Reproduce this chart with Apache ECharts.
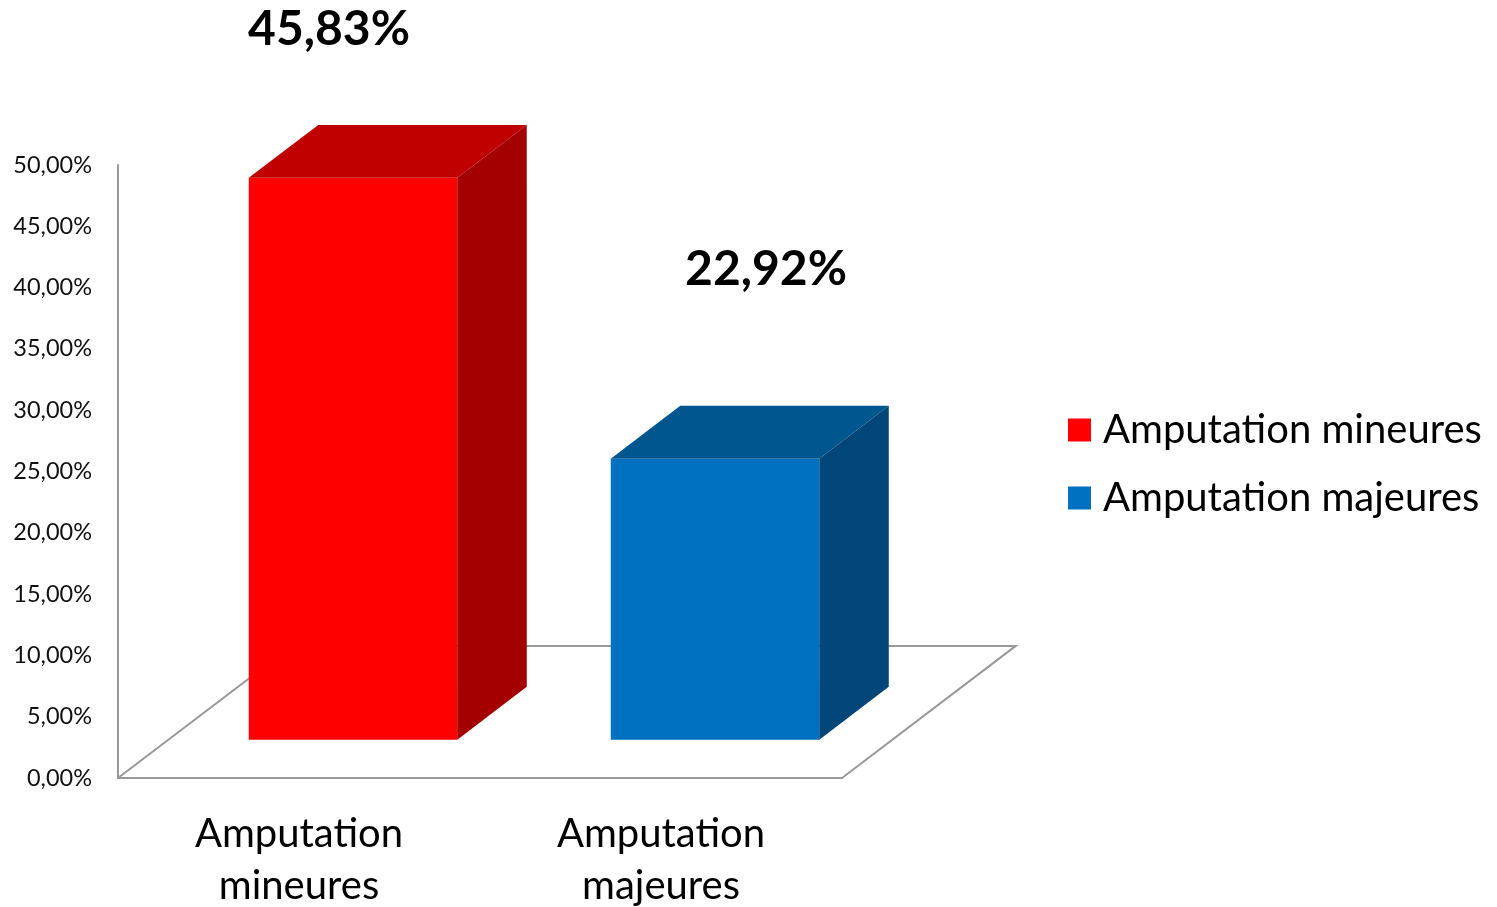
<!DOCTYPE html>
<html>
<head>
<meta charset="utf-8">
<script src="https://cdn.jsdelivr.net/npm/echarts@6/dist/echarts.min.js"></script>
<style>
    html, body { margin: 0; padding: 0; background: #fff; }
    #main { width: 1497px; height: 907px; }
</style>
</head>
<body>
<div id="main"></div>
<script>
// données
var categories = ['Amputation mineures', 'Amputation majeures']
var values = [45.83, 22.92]
var yTicks = [0, 5, 10, 15, 20, 25, 30, 35, 40, 45, 50]

// couleurs des faces : avant, dessus, côté
var faces = [
    ['#ff0000', '#c00000', '#a50000'],
    ['#0070c0', '#00568f', '#004679']
]
// décalage des étiquettes (placées à la main dans l'original)
var labelShift = [[-24, -148], [51, -189]]

var myChart = echarts.init(document.getElementById('main'))
var font = 'Lato, "Open Sans", sans-serif'

function depthVec(params, api) {
    var band = api.size([1, 0])[0]
    return [band * 0.48, -params.coordSys.height * 0.2155]
}

// sol 3D
function renderFloor(params, api) {
    var cs = params.coordSys
    var d = depthVec(params, api)
    var x0 = cs.x, x1 = cs.x + cs.width, y0 = cs.y + cs.height
    return {
        type: 'polyline',
        shape: { points: [[x1, y0], [x1 + d[0], y0 + d[1]], [x0 + d[0], y0 + d[1]], [x0, y0]] },
        style: { stroke: '#999', lineWidth: 2, fill: null },
        silent: true
    }
}

function makeBar(si) {
    return function(params, api) {
        var band = api.size([1, 0])[0]
        var d = depthVec(params, api)
        var idx = api.value(0)
        var top = api.coord([idx, api.value(1)])
        var base = api.coord([idx, 0])
        var fdx = d[0] * 0.29, fdy = d[1] * 0.29
        var bdx = d[0] * 0.4, bdy = d[1] * 0.4
        var left = top[0] - band / 2 + fdx + band * 0.222
        var right = left + band * 0.576
        var yt = top[1] + fdy, yb = base[1] + fdy
        var f = faces[si]
        var txt = api.value(1).toFixed(2).replace('.', ',') + '%'
        return {
            type: 'group',
            children: [
                { type: 'polygon', shape: { points: [[left, yt], [right, yt], [right, yb], [left, yb]] }, style: { fill: f[0] } },
                { type: 'polygon', shape: { points: [[left, yt], [left + bdx, yt + bdy], [right + bdx, yt + bdy], [right, yt]] }, style: { fill: f[1] } },
                { type: 'polygon', shape: { points: [[right, yt], [right + bdx, yt + bdy], [right + bdx, yb + bdy], [right, yb]] }, style: { fill: f[2] } },
                {
                    type: 'text',
                    style: {
                        text: txt,
                        x: (left + right) / 2 + labelShift[si][0],
                        y: yt + labelShift[si][1],
                        align: 'center', verticalAlign: 'middle',
                        font: 'bold 48px ' + font,
                        fill: '#000'
                    }
                }
            ]
        }
    }
}

var option = {
    backgroundColor: '#fff',
    animation: false,
    textStyle: { fontFamily: font },
    grid: { left: 118, right: 655, top: 165, bottom: 129, containLabel: false, outerBoundsMode: 'none' },
    legend: {
        data: categories.map(function(c) { return { name: c, icon: 'rect' } }),
        orient: 'vertical',
        left: 1068, top: 410, padding: 0,
        itemWidth: 23, itemHeight: 23, itemGap: 28,
        textStyle: { fontSize: 40, color: '#000', fontFamily: font, padding: [0, 0, 0, 7] }
    },
    xAxis: {
        type: 'category',
        data: categories,
        axisLine: { show: true, lineStyle: { color: '#999', width: 2 } },
        axisTick: { show: false },
        axisLabel: {
            fontSize: 40, color: '#000', lineHeight: 52, margin: 30, interval: 0,
            formatter: function(v) { return v.replace(' ', '\n') }
        }
    },
    yAxis: {
        type: 'value',
        min: yTicks[0], max: yTicks[yTicks.length - 1], interval: yTicks[1] - yTicks[0],
        axisLine: { show: true, lineStyle: { color: '#999', width: 2 } },
        axisTick: { show: false },
        splitLine: { show: false },
        axisLabel: {
            fontSize: 23.5, color: '#111', margin: 26,
            formatter: function(v) { return v.toFixed(2).replace('.', ',') + '%' }
        }
    },
    series: [
        { type: 'custom', name: 'floor', renderItem: renderFloor, data: [[0, 0]], z: 1, silent: true },
        { type: 'custom', name: categories[0], renderItem: makeBar(0), data: [[0, values[0]]], itemStyle: { color: faces[0][0] }, z: 3 },
        { type: 'custom', name: categories[1], renderItem: makeBar(1), data: [[1, values[1]]], itemStyle: { color: faces[1][0] }, z: 3 }
    ]
}

myChart.setOption(option)
</script>
</body>
</html>
